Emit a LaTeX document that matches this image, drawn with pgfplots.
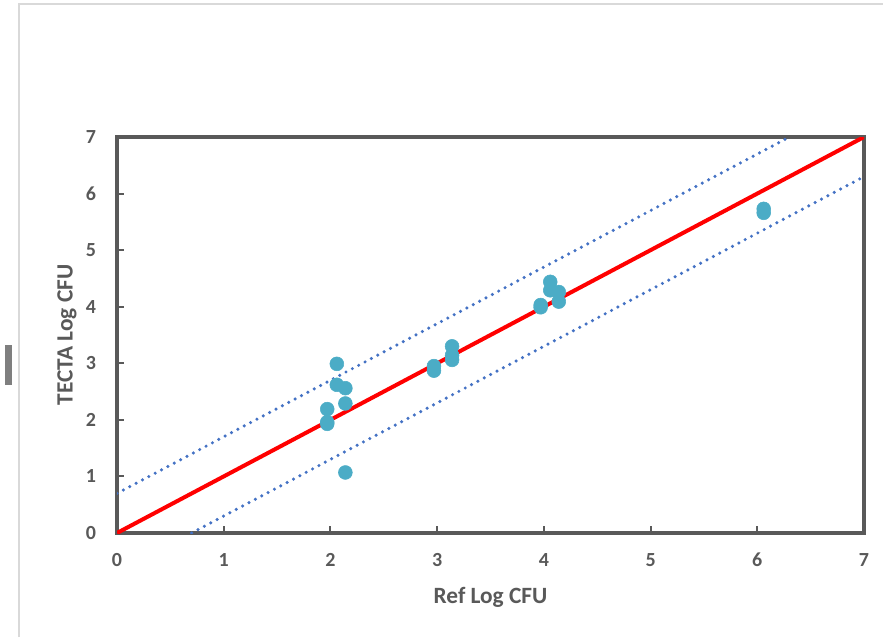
\documentclass[border=0pt]{standalone}
\usepackage{pgfplots}
\pgfplotsset{compat=1.18}
\usepackage{fontspec}
\setmainfont{Carlito}
\definecolor{axisgray}{HTML}{595959}
\definecolor{ptcol}{HTML}{4BACC6}
\definecolor{dotblue}{HTML}{4472C4}
\definecolor{bordergray}{HTML}{D9D9D9}
\definecolor{bargray}{HTML}{7F7F7F}
\begin{document}
\begin{tikzpicture}
\useasboundingbox (0,0) rectangle (662.25pt,477.75pt);
% outer chart border (partially visible)
\draw[bordergray, line width=1.5pt] (14.25pt,0pt) -- (14.25pt,474.75pt) -- (662.25pt,474.75pt);
\fill[bargray] (3.75pt,189pt) rectangle (9pt,219pt);
\begin{axis}[
  at={(87.75pt,78pt)}, anchor=south west,
  scale only axis, width=560.25pt, height=297pt,
  xmin=0, xmax=7, ymin=0, ymax=7,
  xtick={0,1,...,7}, ytick={0,1,...,7},
  tick pos=left, tick align=inside,
  major tick length=5pt,
  tick style={color=axisgray, line width=1.5pt},
  axis line style={color=axisgray, line width=3pt},
  /pgf/number format/assume math mode=true,
  tick label style={font=\fontsize{15}{17}\selectfont\bfseries, text=axisgray},
  xticklabel style={anchor=center, yshift=-20pt},
  yticklabel style={anchor=east, inner sep=0pt, xshift=-15.5pt},
  xlabel={Ref Log CFU}, ylabel={TECTA Log CFU},
  every axis x label/.style={at={(axis description cs:0.5,0)}, anchor=center, yshift=-48pt, font=\fontsize{17.5}{20}\selectfont\bfseries, text=axisgray},
  every axis y label/.style={at={(axis description cs:0,0.5)}, anchor=center, rotate=90, yshift=37.5pt, font=\fontsize{17.5}{20}\selectfont\bfseries, text=axisgray},
  clip=true,
]
\addplot[dotblue, line width=2.6pt, line cap=round, dash pattern=on 0pt off 5.4pt] coordinates {(0,0.7) (6.3,7)};
\addplot[dotblue, line width=2.6pt, line cap=round, dash pattern=on 0pt off 5.4pt] coordinates {(0.7,0) (7,6.3)};
\addplot[red, line width=3pt] coordinates {(0,0) (7,7)};
\addplot[only marks, mark=*, mark size=5.2pt, mark options={draw=ptcol, fill=ptcol}] coordinates {
(2.06,2.99) (2.06,2.62) (2.14,2.56) (2.14,2.29) (1.97,2.19) (1.97,1.96) (1.97,1.93) (2.14,1.07)
(2.97,2.95) (2.97,2.87) (3.14,3.30) (3.14,3.14) (3.14,3.06)
(4.06,4.44) (4.06,4.29) (4.14,4.26) (4.14,4.09) (3.97,4.03) (3.97,3.99)
(6.06,5.73) (6.06,5.66)
};
\end{axis}
\end{tikzpicture}
\end{document}
